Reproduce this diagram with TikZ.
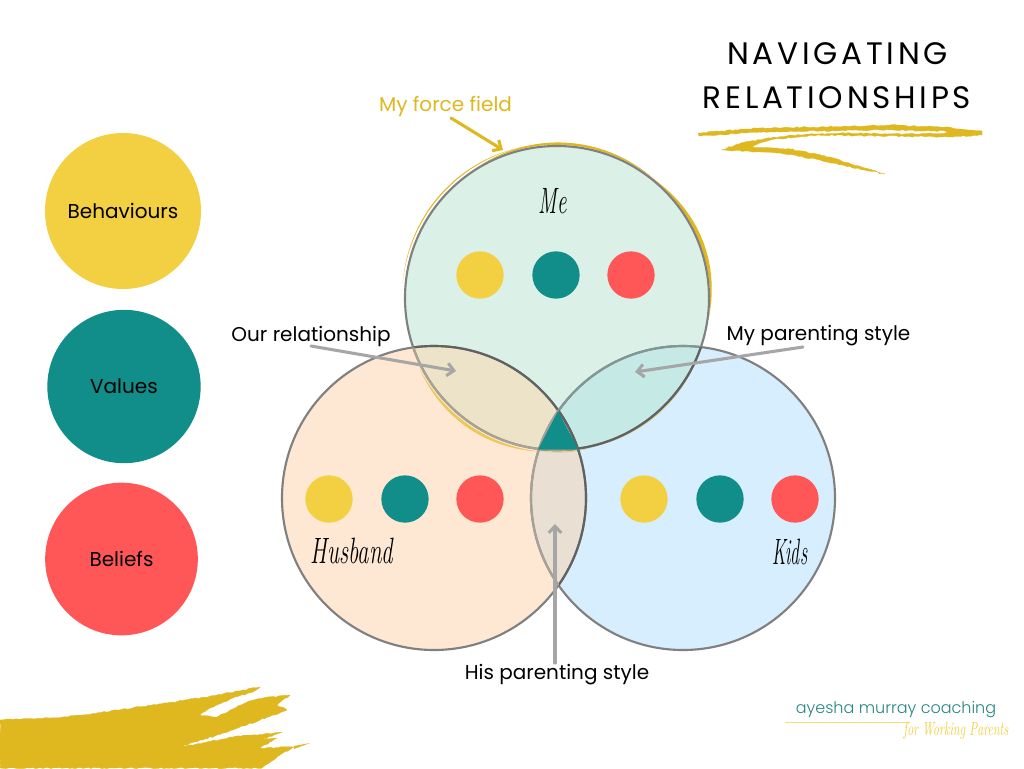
\documentclass[tikz,border=0pt]{standalone}
\usepackage{fontspec}
\setmainfont{Poppins}
\newfontfamily\titlefont[LetterSpace=12]{Poppins}
\newfontfamily\logofont{Poppins Light}
\newfontfamily\handfont{Latin Modern Roman}
\usetikzlibrary{arrows.meta,decorations.pathmorphing}
\definecolor{gold}{HTML}{DFB81F}
\definecolor{cyel}{HTML}{F3D041}
\definecolor{cteal}{HTML}{128E8A}
\definecolor{cred}{HTML}{FF5757}
\definecolor{fme}{HTML}{DBF1E7}
\definecolor{fhus}{HTML}{FEE8D3}
\definecolor{fkid}{HTML}{D6EEFD}
\definecolor{lensA}{HTML}{ECE3C8}
\definecolor{lensB}{HTML}{C5E9E5}
\definecolor{lensC}{HTML}{E9E0D3}
\definecolor{edgeg}{HTML}{808080}
\definecolor{arrowg}{HTML}{A6A6A6}
\def\cMe{(557,298) circle (152)}
\def\cHus{(434,498) circle (152)}
\def\cKid{(683,498) circle (152)}
\newcommand{\crescent}[6]{% a1 a2 r-inner bulge colour opacity
  \fill[#5,opacity=#6] plot[domain=#1:#2,samples=40,smooth] ({557+(#3+#4*sin(180*(\x-#1)/(#2-#1)))*cos(\x)},{298-(#3+#4*sin(180*(\x-#1)/(#2-#1)))*sin(\x)})
   -- plot[domain=#2:#1,samples=40,smooth] ({557+#3*cos(\x)},{298-#3*sin(\x)}) -- cycle;}
\tikzset{
  x=0.75pt,y=-0.75pt,
  legend/.style={circle,fill=#1,inner sep=0pt,font=\fontsize{15pt}{18pt}\selectfont,text=black},
  dot/.style={circle,fill=#1,inner sep=0pt,minimum size=35.5pt},
  lbl/.style={font=\fontsize{15pt}{18pt}\selectfont,text=black,inner sep=0pt},
  hand/.style={font=\fontsize{#1}{#1}\handfont\itshape,text=black,inner sep=0pt},
  ttl/.style={font=\fontsize{23.3pt}{28pt}\titlefont,text=black,inner sep=0pt},
  pointer/.style={draw=arrowg,line width=2.3pt,line cap=round,-{Straight Barb[length=5pt,width=9.5pt,line width=2.3pt]}},
  goldptr/.style={draw=gold,line width=2.3pt,line cap=round,-{Straight Barb[length=5pt,width=9.5pt,line width=2.3pt]}},
  brush/.style={fill=gold,draw=gold,line width=.2pt,decorate,decoration={random steps,segment length=2pt,amplitude=.5pt}},
  venn/.style={draw=edgeg,line width=1.6pt}
}
\begin{document}
\begin{tikzpicture}
\pgfmathsetmacro{\dummy}{0}
\pgfmathsetseed{42}
\useasboundingbox (0,0) rectangle (1024,768);
\fill[white] (0,0) rectangle (1024,768);

% Venn fills
\fill[fhus] \cHus;
\fill[fkid] \cKid;
\fill[fme] \cMe;
\begin{scope}\clip \cMe; \fill[lensA] \cHus; \fill[lensB] \cKid; \end{scope}
\begin{scope}\clip \cHus; \fill[lensC] \cKid; \end{scope}

% force field
\crescent{102}{175}{155}{1.1}{gold}{1}
\crescent{48}{122}{153.2}{2.4}{gold}{1}
\crescent{-8}{52}{153}{3.6}{gold}{1}
\crescent{207}{264}{154.5}{3}{gold}{.65}
\crescent{262}{284}{153.5}{1.2}{gold}{.45}
\crescent{284}{335}{153}{1.2}{gold}{.45}

% Venn outlines
\draw[venn] \cMe; \draw[venn] \cHus; \draw[venn] \cKid;
\begin{scope}\clip \cMe; \draw[venn,draw=black!62] \cHus; \draw[venn,draw=black!35!lensB] \cKid; \end{scope}
\begin{scope}\clip \cKid; \draw[venn,draw=black!62] \cMe; \draw[venn,draw=black!62] \cHus; \end{scope}
\begin{scope}\clip \cHus; \draw[venn,draw=black!28!lensA] \cMe; \draw[venn,draw=black!28!lensC] \cKid; \end{scope}
\fill[cteal] (558,411) -- (538,449.5) -- (578.5,449.5) -- cycle;

% legend
\node[legend=cyel,minimum size=117pt] (behaviours) at (123,211) {Behaviours};
\node[legend=cteal,minimum size=115pt] (values) at (124,386.5) {\raisebox{-.5pt}{Values}};
\node[legend=cred,minimum size=114.5pt] (beliefs) at (121.5,559) {\raisebox{-.5pt}{Beliefs}};

% small dots
\node[dot=cyel] (m1) at (480,275) {};
\node[dot=cteal] (m2) at (556,275) {};
\node[dot=cred] (m3) at (631,275) {};
\node[dot=cyel] (h1) at (329,499) {};
\node[dot=cteal] (h2) at (405,499) {};
\node[dot=cred] (h3) at (480,499) {};
\node[dot=cyel] (k1) at (644,499) {};
\node[dot=cteal] (k2) at (720,499) {};
\node[dot=cred] (k3) at (795,499) {};

% labels
\node[hand=22pt,xscale=.72,yscale=1.25] (me) at (553,201) {Me};
\node[hand=22pt,xscale=.78,yscale=1.25] (husband) at (352,551) {Husband};
\node[hand=22pt,xscale=.62,yscale=1.25] (kids) at (790,552) {Kids};
\node[lbl,text=gold] (force) at (445.5,106.5) {My force field};
\node[lbl] (our) at (311,336) {Our relationship};
\node[lbl] (myp) at (818.5,336) {My parenting style};
\node[lbl] (his) at (557,674.5) {His parenting style};

% pointers
\coordinate (forcetail) at (451,118); \coordinate (forcetip) at (503,150);
\coordinate (ourtail) at (311,346); \coordinate (ourtip) at (456,371);
\coordinate (myptail) at (803,347); \coordinate (myptip) at (635,372);
\coordinate (histail) at (555,663); \coordinate (histip) at (555,524);
\draw[goldptr] (forcetail) -- (forcetip);
\draw[pointer] (ourtail) -- (ourtip);
\draw[pointer] (myptail) -- (myptip);
\draw[pointer] (histail) -- (histip);

% title
\node[ttl] (t1) at (837.5,54) {NAVIGATING};
\node[ttl] (t2) at (837,98) {RELATIONSHIPS};
\path[brush] (698,133) -- (760,128) -- (820,127) -- (890,125) -- (945,127) -- (982,131) -- (982,135) -- (950,137)
  -- (880,136) -- (820,135) -- (775,139) -- (748,147) -- (790,149) -- (830,157) -- (865,168) -- (885,174)
  -- (860,169) -- (820,160) -- (780,153) -- (745,151) -- (721,150) -- (745,142) -- (790,135) -- (850,133) -- (920,134) -- (950,133) -- (945,131)
  -- (880,130) -- (820,131) -- (760,132) -- (699,136) -- cycle;

% bottom-left brush
\path[brush] (0,720) -- (50,718) -- (83,715) -- (117,710) -- (167,703) -- (217,695) -- (260,687)
  -- (253,692) -- (233,698) -- (207,710) -- (200,715) -- (217,717) -- (247,702) -- (263,698) -- (290,695)
  -- (277,705) -- (287,710) -- (233,730) -- (177,748)
  -- (233,737) -- (282,732) -- (277,734) -- (260,740) -- (277,738) -- (260,748) -- (295,747) -- (280,755) -- (262,768)
  -- (0,768) -- cycle;
\fill[gold] (310,743) -- (294,746) -- (294,749) -- cycle;

% logo
\node[font=\fontsize{12pt}{15pt}\logofont,text=cteal!85!black!90,inner sep=0pt] (logo) at (896,710) {ayesha murray coaching};
\coordinate (rulea) at (785,722); \coordinate (ruleb) at (910,722);
\draw[cyel!70,line width=.6pt] (rulea) -- (ruleb);
\node[font=\fontsize{11pt}{12pt}\handfont\itshape,text=cyel,inner sep=0pt,xscale=.8,yscale=1.3] (tag) at (956,731) {for Working Parents};
\end{tikzpicture}
\end{document}
